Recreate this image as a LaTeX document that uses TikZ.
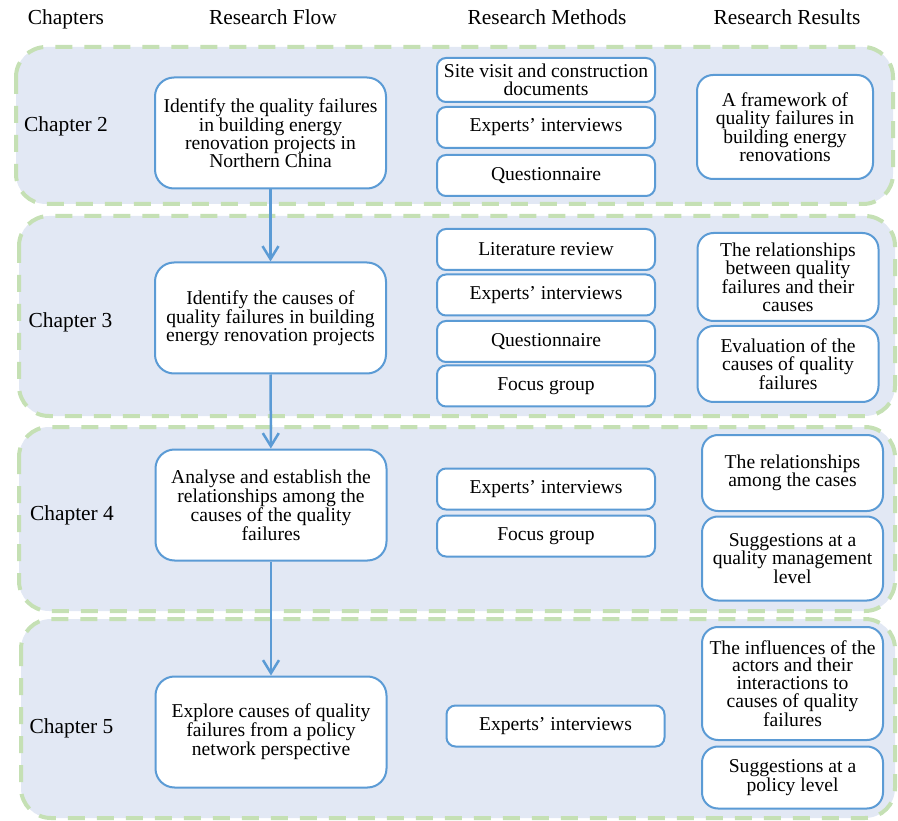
\documentclass[tikz,border=0pt]{standalone}
\usepackage{fontspec}
\setmainfont{Liberation Serif}
\usetikzlibrary{arrows.meta}

\definecolor{panelfill}{HTML}{E2E8F4}
\definecolor{panelline}{HTML}{C5E0B4}
\definecolor{boxline}{HTML}{5B9BD5}

\tikzset{
	panel/.style={fill=panelfill, draw=panelline, line width=4pt, dash pattern=on 17pt off 12pt, rounded corners=30pt},
	flowbox/.style={draw=boxline, fill=white, line width=2pt, rounded corners=19pt, minimum width=231pt, minimum height=111pt, align=center, inner sep=0pt, font=\fontsize{19.6}{17.8}\selectfont},
	methodbox/.style={flowbox, rounded corners=9pt, minimum width=218pt, minimum height=41pt},
	resultbox/.style={flowbox, rounded corners=16pt, minimum width=181pt},
	chaplabel/.style={font=\fontsize{21.4}{22}\selectfont},
	heading/.style={anchor=base, font=\fontsize{21.4}{22}\selectfont},
	flowarrow/.style={draw=boxline, line width=2.5pt, -{Straight Barb[length=13pt,width=16pt]}}
}

\begin{document}
\begin{tikzpicture}[x=1pt, y=-1pt]
	\useasboundingbox (0,0) rectangle (898,821);
	
	% headings
	\node [heading] at (66,25) (hchap) {Chapters};
	\node [heading] at (273,25) (hflow) {Research Flow};
	\node [heading] at (547,25) (hmeth) {Research Methods};
	\node [heading] at (787,25) (hres) {Research Results};
	
	% chapter panels
	\draw [panel] (16,47) rectangle (893,204);
	\draw [panel] (19,216) rectangle (895,416);
	\draw [panel] (19,427) rectangle (895,611);
	\draw [panel] (21,619) rectangle (895,818);
	
	% chapter 2
	\node [chaplabel] at (66,126) (chap2) {Chapter 2};
	\node [flowbox] at (270.5,133) (flow2) {Identify the quality failures\\ in building energy\\ renovation projects in\\ Northern China};
	\node [methodbox, minimum height=44pt] at (546,80) (site2) {Site visit and construction\\ documents};
	\node [methodbox] at (546,127.5) (expert2) {Experts’ interviews};
	\node [methodbox] at (546,175.5) (quest2) {Questionnaire};
	\node [resultbox, minimum width=176pt, minimum height=104pt] at (785,127) (frame2) {A framework of\\ quality failures in\\ building energy\\ renovations};
	
	% chapter 3
	\node [chaplabel] at (70.5,322) (chap3) {Chapter 3};
	\node [flowbox] at (270.5,318) (flow3) {Identify the causes of\\ quality failures in building\\ energy renovation projects};
	\node [methodbox] at (546,249.5) (lit3) {Literature review};
	\node [methodbox] at (546,295) (expert3) {Experts’ interviews};
	\node [methodbox] at (546,341.5) (quest3) {Questionnaire};
	\node [methodbox] at (546,386) (focus3) {Focus group};
	\node [resultbox, minimum height=88pt] at (788,277) (rel3) {The relationships\\ between quality\\ failures and their\\ causes};
	\node [resultbox, minimum height=76pt] at (788,364) (eval3) {Evaluation of the\\ causes of quality\\ failures};
	
	% chapter 4
	\node [chaplabel] at (72,515) (chap4) {Chapter 4};
	\node [flowbox] at (271,505) (flow4) {Analyse and establish the\\ relationships among the\\ causes of the quality\\ failures};
	\node [methodbox] at (546,489) (expert4) {Experts’ interviews};
	\node [methodbox] at (546,536) (focus4) {Focus group};
	\node [resultbox, minimum height=76pt] at (792.5,473) (rel4) {The relationships\\ among the cases};
	\node [resultbox, minimum height=84pt] at (792.5,558.5) (sugg4) {Suggestions at a\\ quality management\\ level};
	
	% chapter 5
	\node [chaplabel] at (71.5,728) (chap5) {Chapter 5};
	\node [flowbox] at (271,732) (flow5) {Explore causes of quality\\ failures from a policy\\ network perspective};
	\node [methodbox] at (555.5,726) (expert5) {Experts’ interviews};
	\node [resultbox, minimum height=113pt] at (792.5,683.5) (infl5) {The influences of the\\ actors and their\\ interactions to\\ causes of quality\\ failures};
	\node [resultbox, minimum height=62pt] at (792.5,777.5) (sugg5) {Suggestions at a\\ policy level};
	
	% research flow
	\draw [flowarrow] (flow2) -- (flow3);
	\draw [flowarrow] (flow3) -- (flow4);
	\draw [flowarrow] (flow4) -- (flow5);
	
\end{tikzpicture}
\end{document}
